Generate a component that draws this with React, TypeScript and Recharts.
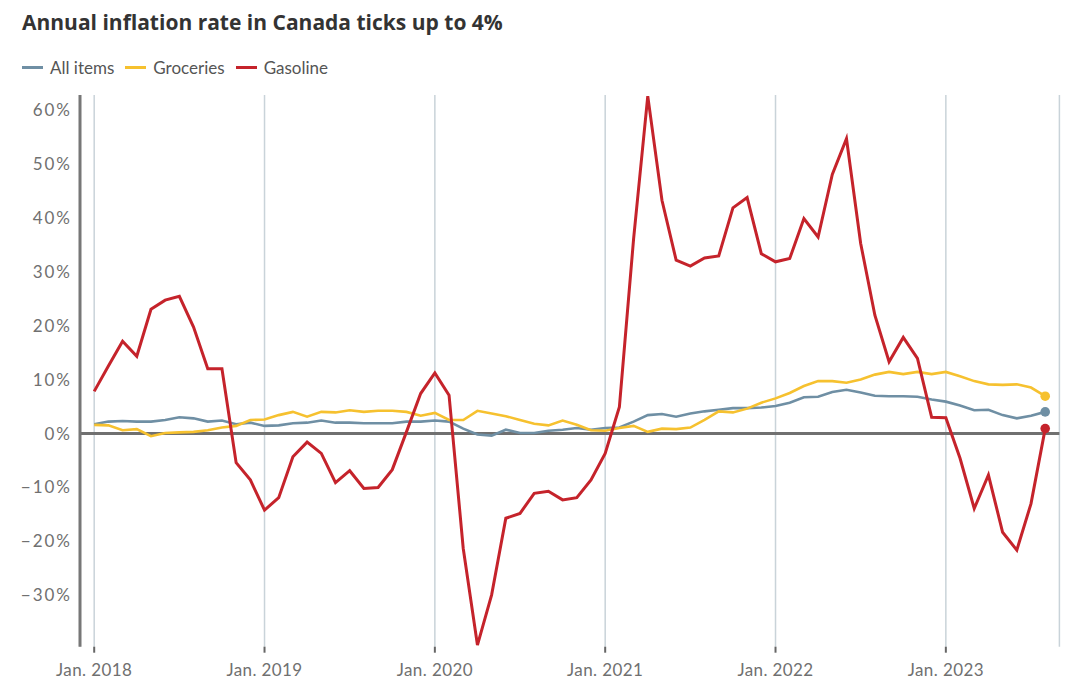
import React from 'react';
import { LineChart, Line, XAxis, YAxis, CartesianGrid, ReferenceLine } from 'recharts';

// Monthly year-over-year % change, Jan. 2018 – Aug. 2023
const allItems = [
  1.7, 2.2, 2.3, 2.2, 2.2, 2.5, 3.0, 2.8, 2.2, 2.4, 1.7, 2.0,
  1.4, 1.5, 1.9, 2.0, 2.4, 2.0, 2.0, 1.9, 1.9, 1.9, 2.2, 2.2,
  2.4, 2.2, 0.9, -0.2, -0.4, 0.7, 0.1, 0.1, 0.5, 0.7, 1.0, 0.7,
  1.0, 1.1, 2.2, 3.4, 3.6, 3.1, 3.7, 4.1, 4.4, 4.7, 4.7, 4.8,
  5.1, 5.7, 6.7, 6.8, 7.7, 8.1, 7.6, 7.0, 6.9, 6.9, 6.8, 6.3,
  5.9, 5.2, 4.3, 4.4, 3.4, 2.8, 3.3, 4.0,
];

const groceries = [
  1.6, 1.5, 0.6, 0.8, -0.5, 0.1, 0.2, 0.3, 0.6, 1.1, 1.4, 2.5,
  2.6, 3.4, 4.0, 3.1, 4.0, 3.9, 4.3, 4.0, 4.2, 4.2, 4.0, 3.3,
  3.8, 2.5, 2.5, 4.2, 3.7, 3.2, 2.5, 1.8, 1.5, 2.4, 1.6, 0.6,
  0.5, 1.0, 1.4, 0.3, 0.9, 0.8, 1.1, 2.5, 4.1, 3.9, 4.6, 5.7,
  6.5, 7.5, 8.8, 9.7, 9.7, 9.4, 10.0, 10.9, 11.4, 11.0, 11.4, 11.0,
  11.4, 10.6, 9.7, 9.1, 9.0, 9.1, 8.5, 6.9,
];

const gasoline = [
  7.8, 12.5, 17.1, 14.3, 23.0, 24.7, 25.4, 19.7, 12.0, 12.0, -5.4, -8.6,
  -14.2, -11.9, -4.3, -1.6, -3.7, -9.1, -6.9, -10.2, -10.0, -6.7, 0.3, 7.4,
  11.2, 7.1, -21.3, -39.2, -29.9, -15.7, -14.8, -11.1, -10.7, -12.3, -11.9, -8.6,
  -3.7, 4.9, 36.0, 62.5, 43.2, 32.1, 31.0, 32.5, 32.9, 41.8, 43.7, 33.3,
  31.8, 32.4, 39.8, 36.4, 48.0, 54.6, 35.2, 21.9, 13.3, 17.8, 13.9, 3.0,
  2.9, -4.6, -13.9, -7.7, -18.3, -21.6, -13.0, 0.9,
];

const xTicks = [0, 12, 24, 36, 48, 60];
const xTickLabels = ['Jan. 2018', 'Jan. 2019', 'Jan. 2020', 'Jan. 2021', 'Jan. 2022', 'Jan. 2023'];
const yTicks = [-30, -20, -10, 0, 10, 20, 30, 40, 50, 60];

const seriesNames = ['All items', 'Groceries', 'Gasoline'];
const seriesKeys = ['all', 'groc', 'gas'];
const seriesColors = ['#6f8fa4', '#f6c12f', '#c5232b'];

const data = allItems.map((v, i) => ({
  i,
  all: v,
  groc: groceries[i],
  gas: gasoline[i],
}));

const FONT = 'Lato, "Open Sans", sans-serif';

const makeDot = (color: string) => (props: any) => {
  const { cx, cy, index } = props;
  if (index !== data.length - 1) return <g key={`d-${index}`} />;
  return <circle key={`d-${index}`} cx={cx} cy={cy} r={4.8} fill={color} stroke="none" />;
};

const fmtY = (v: number) => (v < 0 ? `\u2212${Math.abs(v)}%` : `${v}%`);
const fmtX = (v: number) => xTickLabels[xTicks.indexOf(v)] ?? '';

export default function App() {
  return (
    <div style={{ position: 'absolute', left: 0, top: 0, width: 1080, height: 699, background: '#fff', fontFamily: FONT }}>
      <div
        style={{
          position: 'absolute',
          left: 22,
          top: 8,
          fontSize: 21,
          fontWeight: 700,
          fontFamily: '"Open Sans", Lato, sans-serif',
          color: '#333333',
          whiteSpace: 'nowrap',
          lineHeight: '28px',
        }}
      >
        Annual inflation rate in Canada ticks up to 4%
      </div>
      <div
        style={{
          position: 'absolute',
          left: 22,
          top: 56,
          height: 22,
          display: 'flex',
          alignItems: 'center',
          fontSize: 17,
          color: '#555555',
          whiteSpace: 'nowrap',
        }}
      >
        {seriesNames.map((n, k) => (
          <div key={n} style={{ display: 'flex', alignItems: 'center', marginRight: 11 }}>
            <div style={{ width: 21, height: 3, background: seriesColors[k], marginRight: 7 }} />
            <span>{n}</span>
          </div>
        ))}
      </div>
      <div style={{ position: 'absolute', left: 0, top: 0 }}>
        <LineChart
          width={1080}
          height={699}
          data={data}
          margin={{ top: 95, right: 20.6, bottom: 0, left: 8 }}
        >
          <CartesianGrid vertical horizontal={false} stroke="#c9d3d9" strokeWidth={1.5} />
          <XAxis
            dataKey="i"
            type="number"
            domain={[-1, 68]}
            ticks={xTicks}
            tickFormatter={fmtX}
            axisLine={false}
            tickLine={{ stroke: '#666666', strokeWidth: 2 }}
            tickSize={6}
            tickMargin={11}
            height={52.3}
            tick={{ fill: '#707070', fontSize: 17, fontFamily: FONT, letterSpacing: 0.4 }}
            interval={0}
          />
          <YAxis
            type="number"
            domain={[-39.5, 62.7]}
            ticks={yTicks}
            tickFormatter={fmtY}
            width={72}
            axisLine={{ stroke: '#777777', strokeWidth: 3 }}
            tickLine={false}
            tickSize={6}
            tickMargin={2}
            tick={{ fill: '#707070', fontSize: 17, fontFamily: FONT, letterSpacing: 2 }}
            interval={0}
            allowDataOverflow
          />
          <ReferenceLine y={0} stroke="#707070" strokeWidth={3} ifOverflow="extendDomain" />
          {seriesKeys.map((k, idx) => (
            <Line
              key={k}
              type="linear"
              dataKey={k}
              name={seriesNames[idx]}
              stroke={seriesColors[idx]}
              strokeWidth={idx === 2 ? 3 : 2.6}
              dot={makeDot(seriesColors[idx])}
              activeDot={false}
              isAnimationActive={false}
            />
          ))}
        </LineChart>
      </div>
    </div>
  );
}
